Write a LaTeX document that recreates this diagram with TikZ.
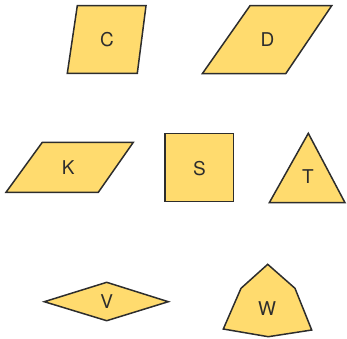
\documentclass[tikz,border=0pt]{standalone}
\usepackage{fontspec}
\setmainfont{TeX Gyre Heros}
\usepackage{xcolor}
\usepackage{tikz}
\usetikzlibrary{positioning}

\definecolor{shapefill}{RGB}{255,219,110}
\definecolor{shapeline}{RGB}{45,45,45}

\begin{document}
\begin{tikzpicture}[
  x=1pt,
  y=-1pt,
  font=\fontsize{19}{20}\selectfont,
  shp/.style={fill=shapefill, draw=shapeline, line width=1.5pt, line join=miter},
  lbl/.style={text=shapeline, inner sep=0pt}
]
  \useasboundingbox (0,0) rectangle (347,338);

  % parallelograms
  \draw[shp] (77.3,5.7) -- (146,5.7) -- (137.3,73.3) -- (67.3,73.3) -- cycle;
  \node[lbl] (c) at (107,40) {C};
  \draw[shp] (250,5.7) -- (331.7,5.7) -- (285.7,73.7) -- (202.3,73.7) -- cycle;
  \node[lbl] (d) at (267.5,40) {D};
  \draw[shp] (42.3,142.3) -- (133.3,142.3) -- (98.3,192.3) -- (6,192.3) -- cycle;
  \node[lbl] (k) at (68.3,168) {K};

  % square and triangle
  \draw[shp] (165,133.3) rectangle (233.3,201.7);
  \node[lbl] (s) at (199.5,169) {S};
  \draw[shp] (308.3,133.3) -- (345,202.7) -- (269.3,202.7) -- cycle;
  \node[lbl] (t) at (308,176.5) {T};

  % diamond and pentagon
  \draw[shp] (44.3,301.7) -- (106.7,282.3) -- (168.3,301.7) -- (106.7,320.7) -- cycle;
  \node[lbl] (v) at (106.7,301.5) {V};
  \draw[shp] (267.7,264.3) -- (295,288.3) -- (311.7,330) -- (268.3,336.7)
    -- (223.3,329) -- (241,288.3) -- cycle;
  \node[lbl] (w) at (267,308.3) {W};
\end{tikzpicture}
\end{document}
